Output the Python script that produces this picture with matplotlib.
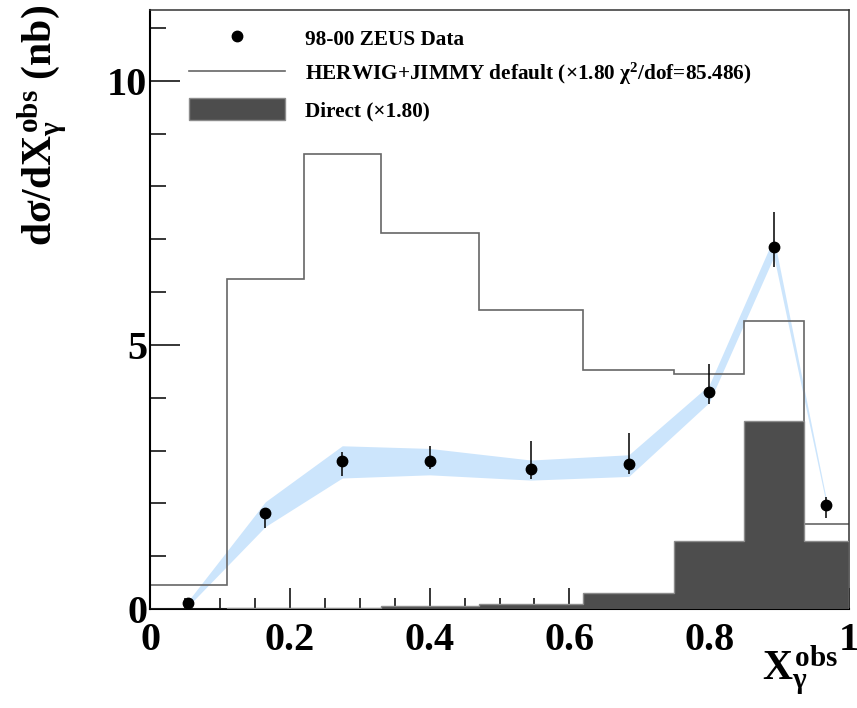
import numpy as np
import matplotlib
matplotlib.use("Agg")
import matplotlib.pyplot as plt
from matplotlib.lines import Line2D
from matplotlib.patches import Patch

# bin edges of x_gamma^obs
edges = [0.0, 0.11, 0.22, 0.33, 0.47, 0.62, 0.75, 0.85, 0.935, 1.0]

# HERWIG+JIMMY default (x1.80) and direct component (x1.80)
herwig = [0.45, 6.24, 8.62, 7.12, 5.66, 4.53, 4.45, 5.46, 1.60]
direct = [0.0, 0.01, 0.02, 0.05, 0.09, 0.30, 1.29, 3.56, 1.29]

# 98-00 ZEUS data, asymmetric errors
data_x = [0.055, 0.165, 0.275, 0.40, 0.545, 0.685, 0.80, 0.8925, 0.9675]
data_y = [0.11, 1.81, 2.81, 2.81, 2.65, 2.74, 4.11, 6.86, 1.96]
err_up = [0.03, 0.11, 0.17, 0.28, 0.53, 0.59, 0.52, 0.66, 0.16]
err_dn = [0.03, 0.27, 0.30, 0.16, 0.18, 0.18, 0.23, 0.38, 0.23]

# uncertainty band
band_hi = [0.16, 2.03, 3.09, 3.04, 2.82, 2.92, 4.24, 7.03, 2.08]
band_lo = [0.06, 1.56, 2.48, 2.54, 2.44, 2.51, 3.91, 6.67, 1.99]

plt.rcParams['font.family'] = ['Liberation Serif', 'DejaVu Serif']
plt.rcParams['font.weight'] = 'bold'
plt.rcParams['axes.labelweight'] = 'bold'
plt.rcParams['mathtext.fontset'] = 'custom'
plt.rcParams['mathtext.rm'] = 'Liberation Serif:bold'
plt.rcParams['mathtext.it'] = 'Liberation Serif:bold'
plt.rcParams['mathtext.bf'] = 'Liberation Serif:bold'

fig = plt.figure(figsize=(8.57, 7.08), dpi=100)
ax = fig.add_axes([150 / 857, 1 - 609 / 708, 699 / 857, 599 / 708])

ax.fill_between(data_x, band_lo, band_hi, color='#cce5fc', lw=0, zorder=1)
ax.stairs(herwig, edges, baseline=None, color='#666666', lw=1.2, zorder=2)
ax.stairs(direct, edges, fill=True, facecolor='#4d4d4d', edgecolor='#8c8c8c',
          lw=1.0, zorder=3)
ax.errorbar(data_x, data_y, yerr=[err_dn, err_up], fmt='o', color='black',
            ms=7.5, elinewidth=1.1, capsize=0, zorder=5)

ax.set_xlim(0, 1)
ax.set_ylim(0, 11.34)
ax.set_xticks([0, 0.2, 0.4, 0.6, 0.8, 1.0])
ax.set_xticklabels(['0', '0.2', '0.4', '0.6', '0.8', '1'])
ax.set_xticks(np.arange(0, 1.001, 0.05), minor=True)
ax.set_yticks([0, 5, 10])
ax.set_yticks(np.arange(0, 11.01, 1), minor=True)

ax.tick_params(axis='both', which='both', direction='in', width=1.1,
               top=False, right=False, labelsize=29)
ax.tick_params(axis='x', which='major', length=15, pad=9)
ax.tick_params(axis='x', which='minor', length=8)
ax.tick_params(axis='y', which='major', length=21.6, pad=2)
ax.tick_params(axis='y', which='minor', length=11.5)

for s in ['left', 'bottom']:
    ax.spines[s].set_linewidth(1.5)
for s in ['top', 'right']:
    ax.spines[s].set_linewidth(1.1)
    ax.spines[s].set_color('#333333')

ax.set_xlabel(r'$X_{\gamma}^{obs}$', fontsize=30, loc='right')
ax.xaxis.set_label_coords(0.984, -0.058)
ax.set_ylabel(r'd$\sigma$/d$X_{\gamma}^{obs}$ (nb)', fontsize=30, loc='top')
ax.yaxis.set_label_coords(-0.114, 1.008)

handles = [
    Line2D([], [], marker='o', ls='none', color='black', ms=7.5),
    Line2D([], [], color='#666666', lw=1.2),
    Patch(facecolor='#4d4d4d', edgecolor='#8c8c8c'),
]
labels = ['98-00 ZEUS Data',
          'HERWIG+JIMMY default (×1.80 χ$^{2}$/dof=85.486)',
          'Direct (×1.80)']
ax.legend(handles, labels, loc='upper left', frameon=False,
          bbox_to_anchor=(189 / 857, 1 - 27 / 708), bbox_transform=fig.transFigure,
          borderpad=0, borderaxespad=0, fontsize=15.3, handlelength=4.5,
          handleheight=1.25, handletextpad=0.94, labelspacing=0.5)

fig.savefig('out.png', dpi=100)
